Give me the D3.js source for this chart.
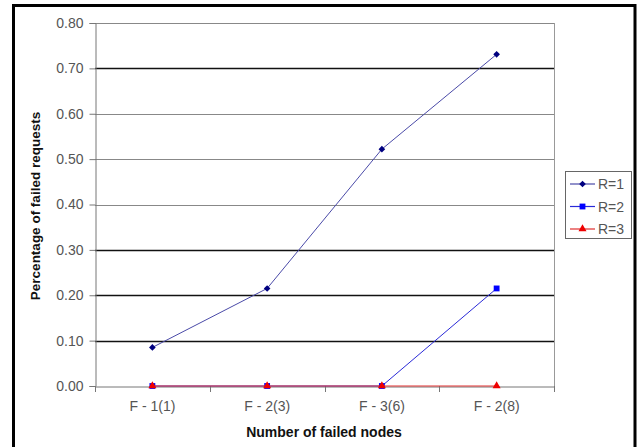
<!DOCTYPE html>
<html><head><meta charset="utf-8">
<script src="https://cdn.jsdelivr.net/npm/d3@7"></script>
<style>body{margin:0;background:#fff}svg{display:block}</style>
</head><body>
<script>
const categories = ["F - 1(1)", "F - 2(3)", "F - 3(6)", "F - 2(8)"];
const seriesNames = ["R=1", "R=2", "R=3"];
const r1 = [0.085, 0.215, 0.522, 0.731];
const r2 = [0.0, 0.0, 0.0, 0.215];
const r3 = [0.0, 0.0, 0.0, 0.0];
const yTicks = [0, 0.1, 0.2, 0.3, 0.4, 0.5, 0.6, 0.7, 0.8];

const W = 638, H = 447;
const svg = d3.select("body").append("svg").attr("width", W).attr("height", H);
svg.append("rect").attr("width", W).attr("height", H).attr("fill", "#fff");

// frame
svg.append("path").attr("d", "M13.5,452 V5.5 H635 V452").attr("fill", "none")
  .attr("stroke", "#000").attr("stroke-width", 3);

const L = 95, R = 554, T = 23, B = 386;
const x = d3.scaleBand().domain(categories).range([L, R]);
const y = d3.scaleLinear().domain([0, 0.8]).range([B, T]);
const font = "Liberation Sans, Arial, sans-serif";

// gridlines
const darkGrid = new Set([0.1, 0.2, 0.3, 0.7]);
svg.append("g").selectAll("line").data(yTicks.filter(d => d > 0)).join("line")
  .attr("x1", L).attr("x2", R)
  .attr("y1", d => Math.round(y(d)) + 0.5).attr("y2", d => Math.round(y(d)) + 0.5)
  .attr("stroke", d => darkGrid.has(+d.toFixed(1)) ? "#111" : "#888")
  .attr("stroke-width", d => darkGrid.has(+d.toFixed(1)) ? 1.3 : 1);

// right border of plot
svg.append("line").attr("x1", R + 0.5).attr("x2", R + 0.5).attr("y1", T).attr("y2", B)
  .attr("stroke", "#999");

// y axis
const yAxis = d3.axisLeft(y).tickValues(yTicks).tickFormat(d3.format(".2f")).tickSize(6).tickPadding(6);
const gy = svg.append("g").attr("transform", `translate(${L + 0.5},0)`).call(yAxis);
gy.select(".domain").attr("stroke", "#777");
gy.selectAll(".tick line").attr("stroke", "#777");
gy.selectAll("text").attr("font-family", font).attr("font-size", 14).attr("fill", "#555");

// x axis
const xAxis = d3.axisBottom(x).tickSize(0).tickPadding(15);
const gx = svg.append("g").attr("transform", `translate(0,${B + 0.5})`).call(xAxis);
gx.select(".domain").attr("stroke", "#777");
gx.selectAll("text").attr("font-family", font).attr("font-size", 14).attr("fill", "#555");
// category boundary ticks
const bounds = categories.map(c => x(c)).concat([R]);
svg.append("g").selectAll("line").data(bounds).join("line")
  .attr("x1", d => Math.round(d) + 0.5).attr("x2", d => Math.round(d) + 0.5)
  .attr("y1", B).attr("y2", B + 6).attr("stroke", "#777");

const cx = c => x(c) + x.bandwidth() / 2;
const line = d3.line().x((d, i) => cx(categories[i])).y(d => y(d));

const series = [
  {name: seriesNames[0], data: r1, line: "#4a4aa8", mark: "#000080", sym: d3.symbolSquare, size: 22, rot: 45},
  {name: seriesNames[1], data: r2, line: "#2a2ad8", mark: "#0000ff", sym: d3.symbolSquare, size: 34, rot: 0},
  {name: seriesNames[2], data: r3, line: "#e03030", mark: "#ee0000", sym: d3.symbolTriangle, size: 28, rot: 0}
];

series.forEach(s => {
  svg.append("path").datum(s.data).attr("d", line).attr("fill", "none")
    .attr("stroke", s.line).attr("stroke-width", 1);
  svg.append("g").selectAll("path").data(s.data).join("path")
    .attr("transform", (d, i) => `translate(${cx(categories[i])},${y(d)}) rotate(${s.rot})`)
    .attr("d", d3.symbol().type(s.sym).size(s.size)).attr("fill", s.mark);
});

// axis titles
svg.append("text").attr("x", 324).attr("y", 437).attr("text-anchor", "middle")
  .attr("font-family", font).attr("font-size", 14).attr("font-weight", "bold").attr("fill", "#111")
  .text("Number of failed nodes");
svg.append("text").attr("transform", `translate(40,206) rotate(-90)`).attr("text-anchor", "middle")
  .attr("font-family", font).attr("font-size", 13.5).attr("font-weight", "bold").attr("fill", "#111")
  .text("Percentage of failed requests");

// legend
const lg = svg.append("g");
lg.append("rect").attr("x", 565.5).attr("y", 171.5).attr("width", 66).attr("height", 67)
  .attr("fill", "#fff").attr("stroke", "#666");
series.forEach((s, i) => {
  const ly = 184 + i * 22.5;
  lg.append("line").attr("x1", 570).attr("x2", 595).attr("y1", ly).attr("y2", ly)
    .attr("stroke", s.line).attr("stroke-width", 1.2);
  lg.append("path").attr("transform", `translate(582.5,${ly}) rotate(${s.rot})`)
    .attr("d", d3.symbol().type(s.sym).size(s.size)).attr("fill", s.mark);
  lg.append("text").attr("x", 598).attr("y", ly + 5).attr("font-family", font)
    .attr("font-size", 14).attr("fill", "#555").text(s.name);
});
</script>
</body></html>
